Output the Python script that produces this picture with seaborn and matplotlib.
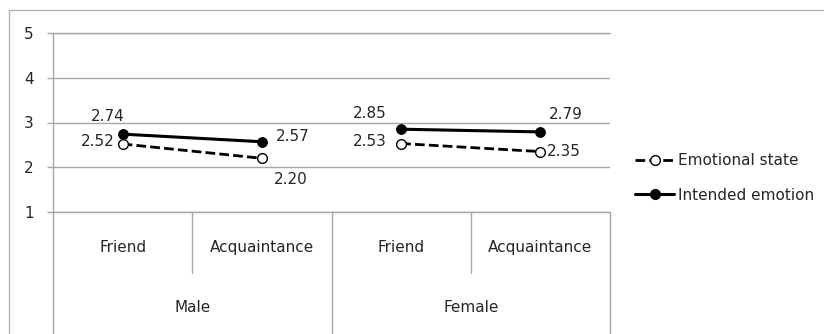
import matplotlib
matplotlib.use('Agg')
import matplotlib.pyplot as plt
import numpy as np
import pandas as pd
import seaborn as sns
from matplotlib.lines import Line2D

# valores
condicoes = ['Friend', 'Acquaintance', 'Friend', 'Acquaintance']
generos = ['Male', 'Male', 'Female', 'Female']
grupos = ['Male', 'Female']
estado_emocional = [2.52, 2.20, 2.53, 2.35]
emocao_pretendida = [2.74, 2.57, 2.85, 2.79]
series = ['Emotional state', 'Intended emotion']

# deslocamento dos rotulos (pixels) e alinhamento
desloc_estado = [(-8, 2, 'right'), (12, -21, 'left'), (-14, 2, 'right'), (6, 0, 'left')]
desloc_pretendida = [(-15, 18, 'center'), (14, 5, 'left'), (-14, 16, 'right'), (8, 17, 'left')]

COR_GRADE = '#a6a6a6'
COR_TEXTO = '#262626'
TAM_FONTE = 11


def montar_dados():
    linhas = []
    for nome, valores in zip(series, [estado_emocional, emocao_pretendida]):
        for i, v in enumerate(valores):
            linhas.append({'serie': nome, 'pos': i + 0.5, 'valor': v,
                           'genero': generos[i], 'condicao': condicoes[i]})
    return pd.DataFrame(linhas)


def main():
    sns.set_theme(style='white')
    plt.rcParams['font.family'] = ['DejaVu Sans']
    plt.rcParams['font.size'] = TAM_FONTE

    dados = montar_dados()
    fig = plt.figure(figsize=(8.24, 3.34), dpi=100)
    ax = fig.add_axes([53 / 824, 122 / 334, 557 / 824, 179 / 334])

    es = dados[dados['serie'] == 'Emotional state']
    sns.lineplot(data=es, x='pos', y='valor', units='genero', estimator=None,
                 color='black', lw=2, marker='o', markersize=7,
                 markerfacecolor='white', markeredgecolor='black', markeredgewidth=1,
                 dashes=False, linestyle=(0, (3.5, 1.5)), ax=ax, zorder=3)
    ie = dados[dados['serie'] == 'Intended emotion']
    sns.lineplot(data=ie, x='pos', y='valor', units='genero', estimator=None,
                 color='black', lw=2.2, marker='o', markersize=7,
                 markerfacecolor='black', markeredgecolor='black',
                 ax=ax, zorder=4)

    for valores, deslocs in [(estado_emocional, desloc_estado), (emocao_pretendida, desloc_pretendida)]:
        for i, v in enumerate(valores):
            dx, dy, ha = deslocs[i]
            ax.annotate(f'{v:.2f}', (i + 0.5, v), xytext=(dx * 0.72, dy * 0.72),
                        textcoords='offset points', ha=ha, va='center',
                        fontsize=TAM_FONTE, color=COR_TEXTO)

    ax.set_xlim(0, 4)
    ax.set_ylim(1, 5)
    ax.set_yticks([1, 2, 3, 4, 5])
    ax.set_xticks([])
    ax.set_xlabel('')
    ax.set_ylabel('')
    ax.grid(axis='y', color=COR_GRADE, lw=1)
    ax.tick_params(axis='y', length=4, width=1, color=COR_GRADE, pad=10,
                   labelsize=TAM_FONTE, labelcolor=COR_TEXTO, left=True)
    for lado in ['top', 'right', 'bottom']:
        ax.spines[lado].set_visible(False)
    ax.spines['left'].set_color(COR_GRADE)
    ax.spines['left'].set_linewidth(1)
    ax.axhline(1, color=COR_GRADE, lw=1, zorder=1, clip_on=False)
    ax.axhline(5, color=COR_GRADE, lw=1, zorder=1, clip_on=False)

    # eixo de categorias em dois niveis
    trans = ax.get_xaxis_transform()
    ax.plot([0, 0], [0, -0.75], color=COR_GRADE, lw=1, transform=trans, clip_on=False)
    for x in [1, 3]:
        ax.plot([x, x], [0, -0.341], color=COR_GRADE, lw=1, transform=trans, clip_on=False)
    for x in [2, 4]:
        ax.plot([x, x], [0, -0.75], color=COR_GRADE, lw=1, transform=trans, clip_on=False)
    for i, c in enumerate(condicoes):
        ax.text(i + 0.5, -0.201, c, transform=trans, ha='center', va='center',
                fontsize=TAM_FONTE, color=COR_TEXTO)
    for j, g in enumerate(grupos):
        ax.text(j * 2 + 1, -0.536, g, transform=trans, ha='center', va='center',
                fontsize=TAM_FONTE, color=COR_TEXTO)

    # moldura externa
    fig.add_artist(Line2D([9 / 824, 1], [1 - 10 / 334, 1 - 10 / 334],
                          transform=fig.transFigure, color='#b3b3b3', lw=1))
    fig.add_artist(Line2D([9 / 824, 9 / 824], [0, 1 - 10 / 334],
                          transform=fig.transFigure, color='#b3b3b3', lw=1))

    alcas = [
        Line2D([], [], color='black', lw=2, linestyle=(0, (3.5, 1.5)), marker='o',
               markersize=7, markerfacecolor='white', markeredgecolor='black'),
        Line2D([], [], color='black', lw=2.2, marker='o', markersize=7,
               markerfacecolor='black', markeredgecolor='black'),
    ]
    fig.legend(alcas, series, loc='center left', bbox_to_anchor=(621 / 824, 1 - 178 / 334),
               frameon=False, handlelength=2.6, handletextpad=0.25, labelspacing=1.25,
               fontsize=TAM_FONTE, labelcolor=COR_TEXTO)

    fig.savefig('out.png', dpi=100, facecolor='white')


if __name__ == "__main__":
    main()
